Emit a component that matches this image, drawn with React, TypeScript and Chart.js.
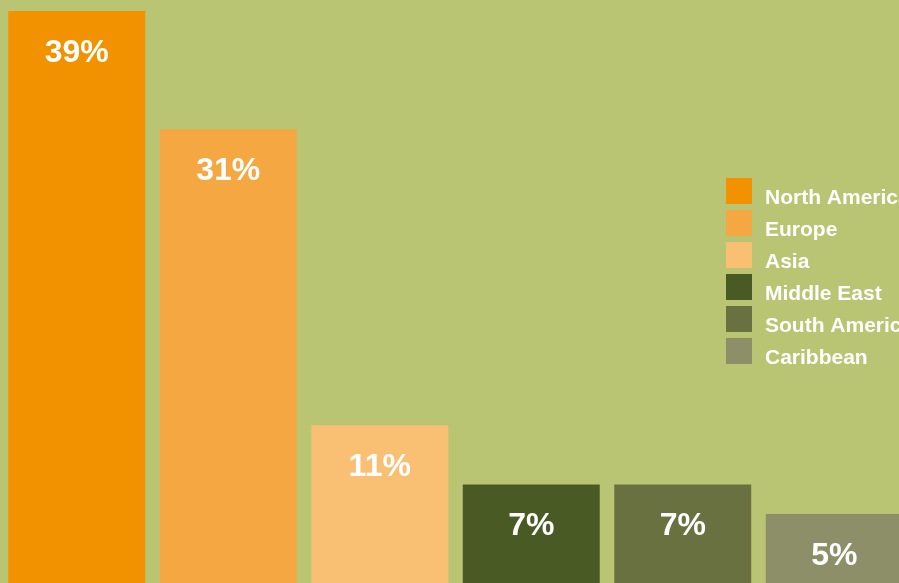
import React, { useEffect, useRef } from "react";
import { Chart, registerables } from "chart.js";

Chart.register(...registerables);

const regions = ["North America", "Europe", "Asia", "Middle East", "South America", "Caribbean"];
const shares = [39, 31, 11, 7, 7, 5];
const barColors = ["#F39200", "#F5A841", "#F9C074", "#4A5A25", "#697140", "#8C8F68"];
const valueLabels = ["39%", "31%", "11%", "7%", "7%", "5%"];

const BG = "#B9C573";
const FONT = '"Liberation Sans", Arial, Helvetica, sans-serif';

const labelsPlugin = {
  id: "valueLabels",
  afterDatasetsDraw(chart: any) {
    const ctx = chart.ctx;
    const meta = chart.getDatasetMeta(0);
    ctx.save();
    ctx.fillStyle = "#FFFFFF";
    ctx.font = `bold 32px ${FONT}`;
    ctx.textAlign = "center";
    ctx.textBaseline = "alphabetic";
    meta.data.forEach((bar: any, i: number) => {
      ctx.fillText(valueLabels[i], bar.x, bar.y + 51);
    });
    ctx.restore();
  },
};

const legendPlugin = {
  id: "sideLegend",
  afterDraw(chart: any) {
    const ctx = chart.ctx;
    const x0 = 725;
    const y0 = 170;
    const step = 32;
    const box = 26;
    ctx.save();
    ctx.font = `bold 21px ${FONT}`;
    ctx.textAlign = "left";
    ctx.textBaseline = "alphabetic";
    regions.forEach((name, i) => {
      const y = y0 + i * step;
      ctx.fillStyle = barColors[i];
      ctx.fillRect(x0, y, box, box);
      ctx.fillStyle = "#FFFFFF";
      ctx.fillText(name, x0 + 39, y + box);
    });
    ctx.restore();
  },
};

export default function App() {
  const ref = useRef<HTMLCanvasElement>(null);

  useEffect(() => {
    if (!ref.current) return;
    const chart = new Chart(ref.current, {
      type: "bar",
      data: {
        labels: regions,
        datasets: [
          {
            data: shares,
            backgroundColor: barColors,
            borderWidth: 0,
            barPercentage: 0.904,
            categoryPercentage: 1,
          },
        ],
      },
      options: {
        responsive: false,
        animation: false,
        devicePixelRatio: 1,
        layout: { padding: 0 },
        plugins: {
          legend: { display: false },
          tooltip: { enabled: false },
          title: { display: false },
        },
        scales: {
          x: { display: false },
          y: { display: false, min: 0, max: 39.2 },
        },
      },
      plugins: [labelsPlugin, legendPlugin],
    });
    return () => chart.destroy();
  }, []);

  return (
    <div
      style={{
        position: "fixed",
        left: 0,
        top: 0,
        width: "100vw",
        height: "100vh",
        overflow: "hidden",
        background: BG,
      }}
    >
      <canvas
        ref={ref}
        width={909}
        height={580}
        style={{ position: "absolute", left: 1, top: 8, width: 909, height: 580 }}
      />
    </div>
  );
}
